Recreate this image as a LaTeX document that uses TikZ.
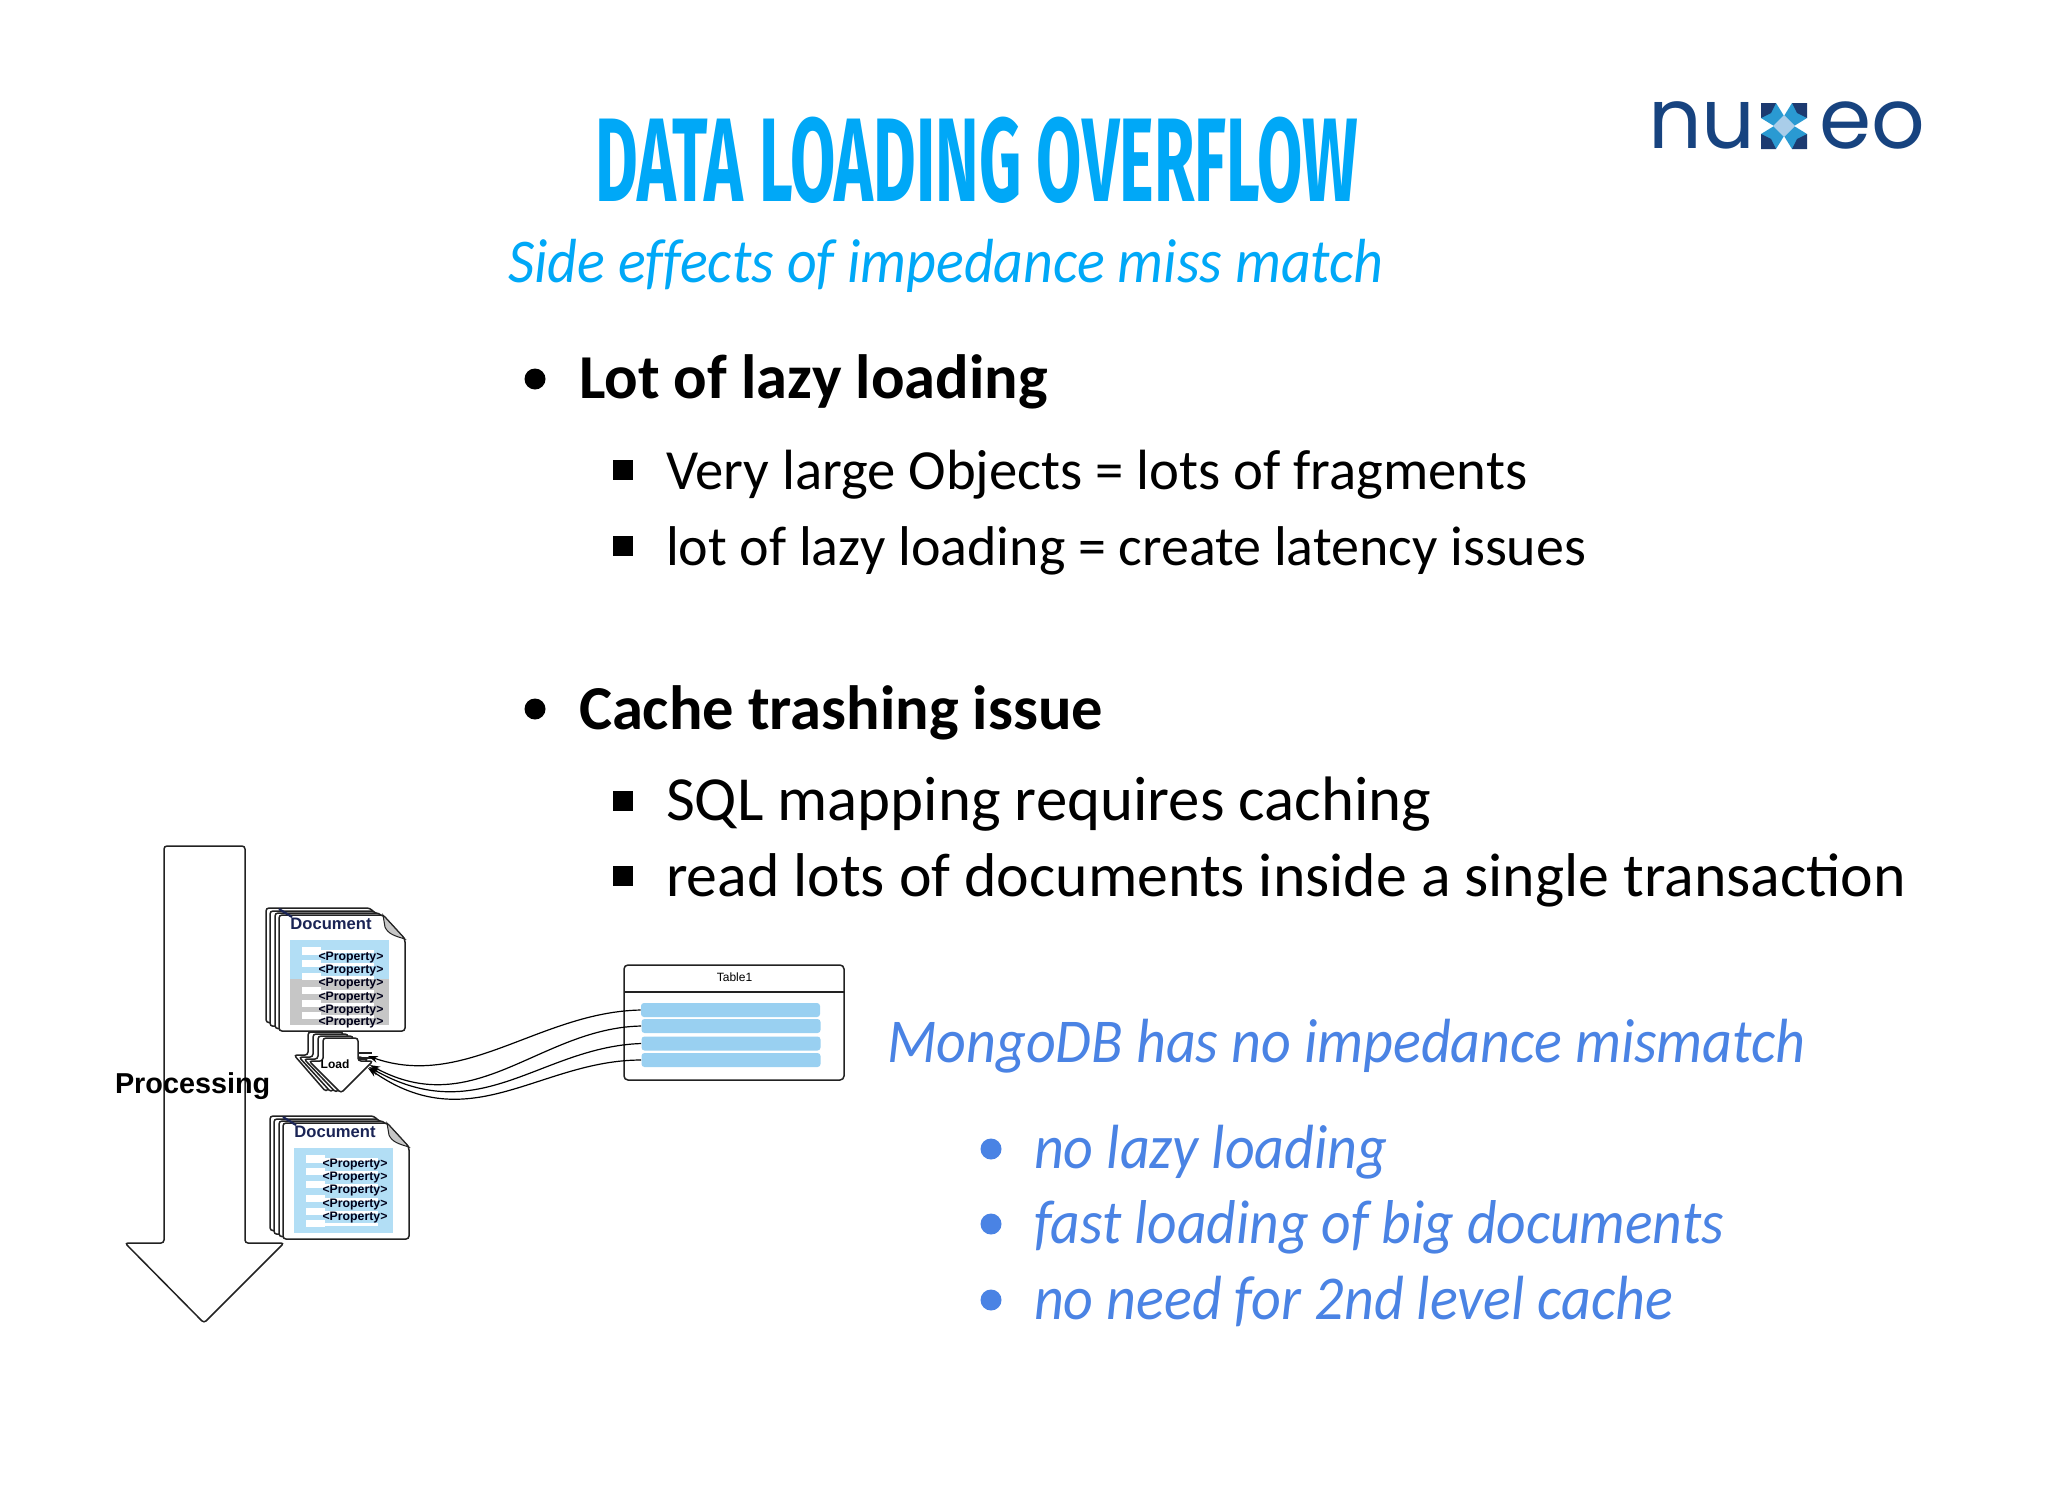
\documentclass[tikz,border=0pt]{standalone}
\usepackage{fontspec}
\usetikzlibrary{arrows.meta}
\setmainfont{Carlito}
\newfontfamily\arialf{Liberation Sans}
\newfontfamily\titlef[FakeStretch=0.552]{Fira Sans Bold}
\newfontfamily\logof{Poppins}
\newfontfamily\itf[FakeStretch=0.93,Ligatures=NoCommon]{Carlito Italic}
\newcommand{\pxs}[1]{\fontsize{\dimexpr#1pt*1/2\relax}{\dimexpr#1pt*3/5\relax}\selectfont}
\definecolor{skyt}{HTML}{00A8F7}
\definecolor{mongo}{HTML}{4A83E4}
\definecolor{navy}{HTML}{1A2455}
\definecolor{logob}{HTML}{17437F}
\definecolor{logod}{HTML}{1C3A70}
\definecolor{logom}{HTML}{2A9AD2}
\definecolor{logop}{HTML}{A9CDE9}
\definecolor{paleblue}{HTML}{B2DEF5}
\definecolor{rowblue}{HTML}{99D0F1}
\definecolor{graybar}{HTML}{C6C6C6}
\definecolor{lineblk}{HTML}{222222}
\tikzset{
  txt/.style={inner sep=0pt,outer sep=0pt,anchor=base west},
  head/.style={txt,font=\pxs{62.5}\bfseries},
  sub/.style={txt},
  mon/.style={txt,font=\itf\pxs{62.4},text=mongo},
  bul/.style={circle,fill=black,inner sep=0pt,minimum size=21pt*0.5},
  sq/.style={rectangle,fill=black,inner sep=0pt,minimum size=20pt*0.5},
  mbul/.style={circle,fill=mongo,inner sep=0pt,minimum size=21pt*0.5},
  sheet/.style={draw=lineblk,fill=white,line width=0.75pt,rounded corners=1.5pt},
  prop/.style={inner sep=0pt,font=\arialf\pxs{12.3}\bfseries,text=black!90!blue},
  docname/.style={inner sep=0pt,font=\arialf\pxs{16.6}\bfseries,text=navy},
  wbox/.style={fill=white,draw=none},
  rowbox/.style={rectangle,fill=rowblue,rounded corners=1.5pt,inner sep=0pt,minimum width=179pt*0.5,minimum height=14pt*0.5},
  conn/.style={draw=black,line width=0.6pt,-{Stealth[length=5pt,width=3.5pt]}},
}
\newcommand{\docstack}[3]{%
  \begin{scope}[shift={(#1,#2)}]
    \foreach \dx/\dy in {-13/-7,-9/-4,-4/-2,0/0}{
      \draw[sheet] (279+\dx,915+\dy) -- (383+\dx,915+\dy) -- (405+\dx,939+\dy) -- (405+\dx,1031+\dy*1.2) -- (279+\dx,1031+\dy*1.2) -- cycle;
    }
    \fill[graybar,draw=lineblk,line width=0.5pt] (383,915) -- (405,939) .. controls (395,936) and (388,934) .. (385,927) -- cycle;
    \draw[line width=1.1pt,draw=navy] (279,909) -- (292,917);
    \fill[paleblue] (290,940) rectangle (389,1025);
    \ifnum#3=1 \fill[graybar] (290,979) rectangle (389,1025);\fi
    \foreach \ya/\yb in {947/954.5,959.5/967,973/979.5,987/994,999.5/1007,1012/1019}{
      \fill[wbox] (302,\ya) rectangle (320.5,\yb);
      \fill[wbox] (320,\ya+3) rectangle (374,\ya+6);
    }
    \node[docname,anchor=base west] at (290,929) {Document};
  \end{scope}}
\begin{document}
\begin{tikzpicture}[x=0.5pt,y=-0.5pt]
\useasboundingbox[fill=white] (0,0) rectangle (2048,1494);

% title
\node[txt,font=\titlef\pxs{119},text=skyt] (title) at (595,201) {DATA LOADING OVERFLOW};
\node[txt,font=\itf\pxs{62.3},text=skyt] (subtitle) at (508,282) {Side effects of impedance miss match};

% logo
\node[txt,font=\logof\pxs{84},text=logob] (lognu) at (1648,148) {nu};
\node[txt,font=\logof\pxs{84},text=logob] (logeo) at (1819,148) {eo};
\begin{scope}[shift={(1784,126)}]
  \foreach \a in {0,90,180,270}{
    \begin{scope}[rotate=\a]
      \fill[logom] (-23,-8) -- (-8,-23) -- (0,-10) -- (-10,0) -- cycle;
      \fill[logod] (-23,-23) -- (-8,-23) -- (-13,-13) -- (-23,-8) -- cycle;
    \end{scope}
  }
  \fill[logop] (0,-11) -- (11,0) -- (0,11) -- (-11,0) -- cycle;
\end{scope}

% black bullets
\node[bul] (b1) at (535,379) {};
\node[head] (t1) at (579,398) {Lot of lazy loading};
\node[sq] (s1) at (623,470) {};
\node[sub,font=\pxs{56.7}] (t2) at (666,489.5) {Very large Objects = lots of fragments};
\node[sq] (s2) at (623,546) {};
\node[sub,font=\pxs{56}] (t3) at (666,565) {lot of lazy loading = create latency issues};
\node[bul] (b2) at (535,709) {};
\node[head] (t4) at (579,729) {Cache trashing issue};
\node[sq] (s3) at (623,801) {};
\node[sub,font=\pxs{62.8}] (t5) at (666,820) {SQL mapping requires caching};
\node[sq] (s4) at (623,876) {};
\node[sub,font=\pxs{61.8}] (t6) at (666,896) {read lots of documents inside a single transaction};

% mongo
\node[mon] (m0) at (887,1062) {MongoDB has no impedance mismatch};
\node[mbul] (mb1) at (991,1149) {};
\node[mon] (m1) at (1034,1168) {no lazy loading};
\node[mbul] (mb2) at (991,1224) {};
\node[mon,font=\itf\pxs{61.9}] (m2) at (1034,1243) {fast loading of big documents};
\node[mbul] (mb3) at (991,1300) {};
\node[mon] (m3) at (1034,1319) {no need for 2nd level cache};

% processing arrow
\draw[draw=lineblk,line width=0.75pt,fill=white,rounded corners=1.5pt] (164,846) -- (245,846) -- (245,1243) -- (284,1243) -- (204,1323) -- (125,1243) -- (164,1243) -- cycle;
\node[txt,font=\arialf\pxs{28.8}\bfseries] (proc) at (115,1093) {Processing};

% documents
\docstack{0}{0}{1}
\foreach \n/\y in {a/957.5,b/970.5,c/983.5,d/997.5,e/1010.5,f/1022.5}{
  \node[prop] (p\n) at (351,\y) {<Property>};
}
\docstack{4}{208}{0}
\foreach \n/\y in {a/1165,b/1178,c/1190.5,d/1205,e/1218}{
  \node[prop] (q\n) at (355,\y) {<Property>};
}

% load stacked arrows
\foreach \dx/\dy in {-15/-6,-10/-4,-5/-2,0/0}{
  \draw[sheet] (323+\dx,1038+\dy) -- (358+\dx,1038+\dy) -- (358+\dx,1061+\dy) -- (373+\dx,1061+\dy) -- (341+\dx,1093+\dy*0.2) -- (309+\dx,1061+\dy) -- (323+\dx,1061+\dy) -- cycle;
}
\draw[line width=0.75pt,draw=lineblk] (358,1053) -- (372,1053);
\draw[line width=0.75pt,draw=lineblk] (358,1058) -- (372,1058);
\node[inner sep=0pt,font=\arialf\pxs{12}\bfseries] (load) at (335,1064) {Load};
\coordinate (e1) at (368,1056);
\coordinate (e2) at (370,1065);
\coordinate (e3) at (369,1067);
\coordinate (e4) at (368,1068);

% table
\draw[draw=lineblk,line width=0.75pt,fill=white,rounded corners=2pt] (624,965) rectangle (844,1080);
\draw[draw=lineblk,line width=0.75pt] (624,992) -- (844,992);
\node[inner sep=0pt,font=\arialf\pxs{12}] (tname) at (734.5,977) {Table1};
\node[rowbox] (r1) at (730.5,1010) {};
\node[rowbox] (r2) at (731,1026) {};
\node[rowbox] (r3) at (731,1043.5) {};
\node[rowbox] (r4) at (731,1060) {};

% connectors
\draw[conn] (r1.west) .. controls (540,1012) and (465,1090) .. (e1);
\draw[conn] (r2.west) .. controls (540,1028) and (475,1122) .. (e2);
\draw[conn] (r3.west) .. controls (540,1047) and (480,1130) .. (e3);
\draw[conn] (r4.west) .. controls (540,1060) and (470,1140) .. (e4);
\end{tikzpicture}
\end{document}
